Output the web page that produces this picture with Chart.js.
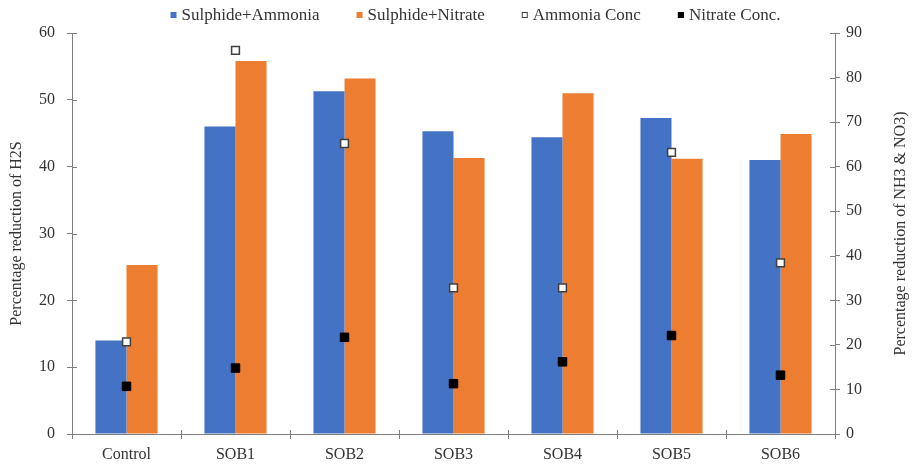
<!DOCTYPE html>
<html>
<head>
<meta charset="utf-8">
<script src="https://cdn.jsdelivr.net/npm/chart.js@4.4.1/dist/chart.umd.min.js"></script>
<style>
  html, body { margin: 0; padding: 0; background: #fff; }
  #wrap { width: 912px; height: 466px; position: relative; }
</style>
</head>
<body>
<div id="wrap"><canvas id="chart"></canvas></div>
<script>
// Data
const categories = ["Control", "SOB1", "SOB2", "SOB3", "SOB4", "SOB5", "SOB6"];
const sulphideAmmonia = [14.0, 46.0, 51.3, 45.3, 44.4, 47.3, 41.0];
const sulphideNitrate = [25.3, 55.8, 53.2, 41.3, 51.0, 41.2, 44.9];
const ammoniaConc = [20.7, 86.1, 65.2, 32.8, 32.8, 63.2, 38.4];
const nitrateConc = [10.7, 14.8, 21.7, 11.3, 16.2, 22.1, 13.2];

const leftMax = 60, rightMax = 90, tickStep = 10;
const leftTitle = "Percentage reduction of H2S";
const rightTitle = "Percentage reduction of NH3 & NO3)";

const serif = "'Liberation Serif', 'Times New Roman', serif";
const axisColor = "#7f7f7f";
const textColor = "#333333";

// ticks crossing the axis lines, right title read bottom-to-top, legend row
const axisExtras = {
    id: "axisExtras",
    afterDatasetsDraw(chart) {
        const { ctx, chartArea: a, scales } = chart;
        ctx.save();
        ctx.strokeStyle = axisColor;
        ctx.lineWidth = 1;
        ctx.beginPath();
        scales.y.ticks.forEach((t, i) => {
            const py = Math.round(scales.y.getPixelForTick(i)) + 0.5;
            ctx.moveTo(a.left, py); ctx.lineTo(a.left + 5, py);
        });
        scales.y1.ticks.forEach((t, i) => {
            const py = Math.round(scales.y1.getPixelForTick(i)) + 0.5;
            ctx.moveTo(a.right - 5, py); ctx.lineTo(a.right, py);
        });
        for (let i = 0; i <= categories.length; i++) {
            const px = Math.round(scales.x.getPixelForValue(i - 0.5)) + 0.5;
            ctx.moveTo(px, a.bottom - 4); ctx.lineTo(px, a.bottom);
        }
        ctx.stroke();
        ctx.restore();
    },
    afterDraw(chart) {
        const { ctx, chartArea: a } = chart;
        ctx.save();
        ctx.fillStyle = textColor;
        ctx.font = "16px " + serif;
        ctx.textAlign = "center";
        ctx.textBaseline = "middle";
        ctx.translate(901, (a.top + a.bottom) / 2);
        ctx.rotate(-Math.PI / 2);
        ctx.fillText(rightTitle, 0, 0);
        ctx.restore();

        // legend
        const box = 6, gap = 5, itemGap = 37, ly = 15;
        ctx.save();
        ctx.font = "17px " + serif;
        ctx.textBaseline = "middle";
        ctx.textAlign = "left";
        const items = chart.data.datasets.map(ds => ({
            text: ds.label,
            fill: ds.type === "line" ? ds.pointBackgroundColor : ds.backgroundColor,
            stroke: ds.type === "line" ? ds.pointBorderColor : null
        }));
        const widths = items.map(it => box + gap + ctx.measureText(it.text).width);
        const total = widths.reduce((s, w) => s + w, 0) + itemGap * (items.length - 1);
        let x = (a.left + a.right) / 2 + 22 - total / 2;
        items.forEach((it, i) => {
            ctx.fillStyle = it.fill;
            ctx.fillRect(x, ly - box / 2, box, box);
            if (it.stroke) {
                ctx.strokeStyle = it.stroke;
                ctx.lineWidth = 1;
                ctx.strokeRect(x + 0.5, ly - box / 2 + 0.5, box - 1, box - 1);
            }
            ctx.fillStyle = textColor;
            ctx.fillText(it.text, x + box + gap, ly + 1);
            x += widths[i] + itemGap;
        });
        ctx.restore();
    }
};

const ctx = document.getElementById("chart").getContext("2d");
const chart = new Chart(ctx, {
    type: "bar",
    data: {
        labels: categories,
        datasets: [
            { label: "Sulphide+Ammonia", data: sulphideAmmonia, backgroundColor: "#4472c4", yAxisID: "y", order: 2 },
            { label: "Sulphide+Nitrate", data: sulphideNitrate, backgroundColor: "#ed7d31", yAxisID: "y", order: 2 },
            { label: "Ammonia Conc", type: "line", data: ammoniaConc, showLine: false, yAxisID: "y1", order: 1,
              pointStyle: "rect", pointRadius: 5.5, pointBackgroundColor: "#ffffff", pointBorderColor: "#404040",
              pointBorderWidth: 1.5 },
            { label: "Nitrate Conc.", type: "line", data: nitrateConc, showLine: false, yAxisID: "y1", order: 0,
              pointStyle: "rect", pointRadius: 6, pointBackgroundColor: "#000000", pointBorderColor: "#000000",
              pointBorderWidth: 1 }
        ]
    },
    options: {
        responsive: true,
        maintainAspectRatio: false,
        animation: false,
        layout: { padding: { top: 33, left: 7, right: 0, bottom: 0 } },
        datasets: { bar: { categoryPercentage: 0.57, barPercentage: 1.0 } },
        plugins: {
            tooltip: { enabled: false },
            legend: { display: false }
        },
        scales: {
            x: {
                grid: { display: true, drawOnChartArea: false, tickLength: 5, color: axisColor, offset: true },
                border: { display: true, color: axisColor },
                ticks: { font: { family: serif, size: 16 }, color: textColor, padding: 6 },
                afterFit: (s) => { s.height = 32; }
            },
            y: {
                position: "left",
                min: 0, max: leftMax,
                grid: { display: true, drawOnChartArea: false, tickLength: 5, color: axisColor },
                border: { display: true, color: axisColor },
                ticks: { stepSize: tickStep, font: { family: serif, size: 16 }, color: textColor, padding: 12 },
                title: { display: true, text: leftTitle, font: { family: serif, size: 16 }, color: textColor, padding: 0 },
                afterFit: (s) => { s.width = 65; }
            },
            y1: {
                position: "right",
                min: 0, max: rightMax,
                grid: { display: true, drawOnChartArea: false, tickLength: 5, color: axisColor },
                border: { display: true, color: axisColor },
                ticks: { stepSize: tickStep, font: { family: serif, size: 16 }, color: textColor, padding: 6 },
                afterFit: (s) => { s.width = 77; }
            }
        }
    },
    plugins: [axisExtras]
});
</script>
</body>
</html>
